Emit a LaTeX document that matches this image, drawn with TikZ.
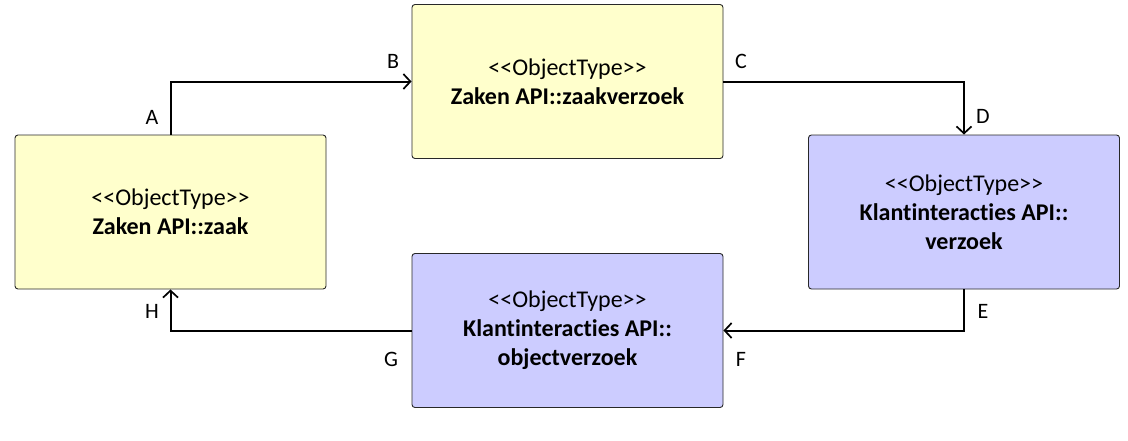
\documentclass[tikz,border=0pt]{standalone}
\usepackage{fontspec}
\setmainfont[Ligatures=NoCommon]{Carlito}
\usetikzlibrary{arrows.meta}
\definecolor{zyellow}{RGB}{255,255,204}
\definecolor{klilac}{RGB}{204,204,255}
\definecolor{bordergray}{RGB}{40,40,40}
\begin{document}
\begin{tikzpicture}[x=1pt,y=-1pt,
  objbox/.style={draw=bordergray, line width=0.9pt, rounded corners=3pt, minimum width=311pt, minimum height=154pt, align=center, inner sep=0pt, font=\fontsize{24}{29}\selectfont},
  conn/.style={draw=black, line width=2pt, -{Straight Barb[length=7pt,width=15pt,line width=1.7pt]}},
  lbl/.style={font=\fontsize{22}{24}\selectfont, inner sep=0pt}]
\useasboundingbox (0,0) rectangle (1128,440);
\fill[white] (0,0) rectangle (1128,440);
\node[objbox, fill=zyellow] (zaak) at (170.5,212) {<{}<ObjectType>{}>\\\textbf{Zaken API::zaak}};
\node[objbox, fill=zyellow] (zaakverzoek) at (567.5,81.5) {<{}<ObjectType>{}>\\\textbf{Zaken API::zaakverzoek}};
\node[objbox, fill=klilac] (verzoek) at (964,212) {<{}<ObjectType>{}>\\\textbf{Klantinteracties API::}\\\textbf{verzoek}};
\node[objbox, fill=klilac] (objectverzoek) at (567.5,330.5) {<{}<ObjectType>{}>\\\textbf{Klantinteracties API::}\\\textbf{objectverzoek}};
\draw[conn] (zaak.north) |- (zaakverzoek.west);
\draw[conn] (zaakverzoek.east) -| (verzoek.north);
\draw[conn] (verzoek.south) |- (objectverzoek.east);
\draw[conn] (objectverzoek.west) -| (zaak.south);
\node[lbl] (la) at (152,117) {A};
\node[lbl] (lb) at (393,61) {B};
\node[lbl] (lc) at (741,61) {C};
\node[lbl] (ld) at (983,116) {D};
\node[lbl] (le) at (983,311) {E};
\node[lbl] (lf) at (741,359) {F};
\node[lbl] (lg) at (391,359) {G};
\node[lbl] (lh) at (152,311) {H};
\end{tikzpicture}
\end{document}
